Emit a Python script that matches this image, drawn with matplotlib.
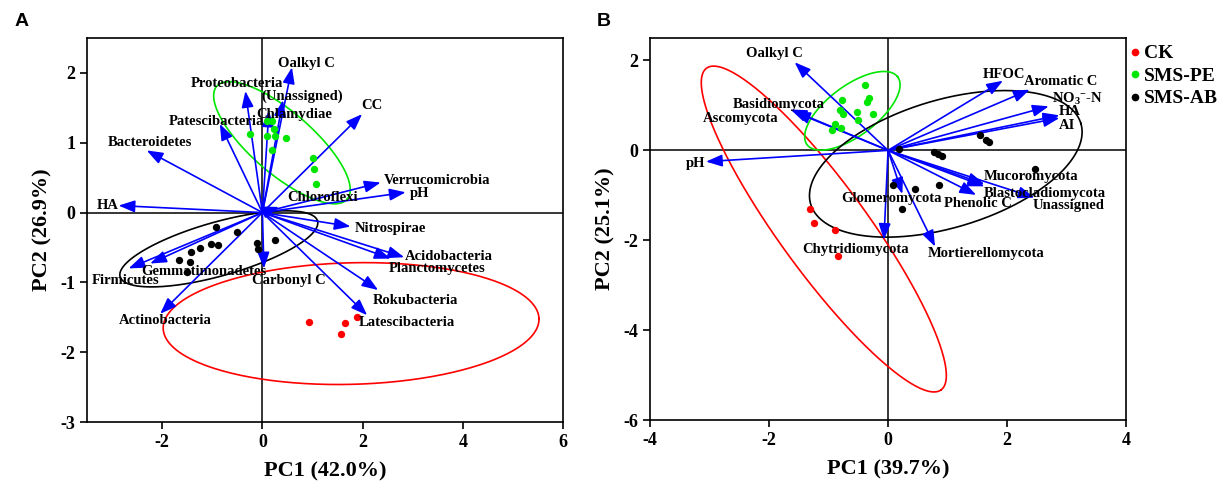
import numpy as np
import matplotlib
matplotlib.use("Agg")
import matplotlib.pyplot as plt
from matplotlib.lines import Line2D

plt.rcParams['font.family'] = ['Liberation Serif', 'DejaVu Serif']
plt.rcParams['font.weight'] = 'bold'
plt.rcParams['axes.unicode_minus'] = False
plt.rcParams['mathtext.fontset'] = 'custom'
plt.rcParams['mathtext.rm'] = 'Liberation Serif:bold'
plt.rcParams['mathtext.it'] = 'Liberation Serif:bold'
plt.rcParams['mathtext.bf'] = 'Liberation Serif:bold'

# ---------------- Panel A data (bacteria) ----------------
a_ck_x = [0.93, 1.64, 1.88, 1.57]
a_ck_y = [-1.57, -1.58, -1.50, -1.74]
a_pe_x = [-0.25, 0.09, 0.19, 0.23, 0.09, 0.25, 0.48, 0.19, 1.01, 1.03, 1.07]
a_pe_y = [1.12, 1.31, 1.31, 1.20, 1.09, 1.09, 1.07, 0.89, 0.78, 0.63, 0.41]
a_ab_x = [-0.92, -0.51, -1.02, -0.89, -1.24, -1.43, -1.67, -1.45, -1.51, -0.11, -0.09, 0.26]
a_ab_y = [-0.20, -0.28, -0.45, -0.46, -0.51, -0.56, -0.68, -0.71, -0.85, -0.43, -0.52, -0.39]

a_vars = ['Oalkyl C', 'Proteobacteria', '(Unassigned)', 'Chlamydiae', 'Patescibacteria',
          'Bacteroidetes', 'HA', 'CC', 'Verrucomicrobia', 'pH', 'Chloroflexi', 'Nitrospirae',
          'Acidobacteria', 'Planctomycetes', 'Rokubacteria', 'Latescibacteria', 'Carbonyl C',
          'Gemmatimonadetes', 'Firmicutes', 'Actinobacteria']
a_load_x = [0.59, -0.34, 0.41, 0.13, -0.85, -2.31, -2.87, 1.99, 2.36, 2.86, 0.33, 1.76,
            2.83, 2.56, 2.31, 2.09, 0.03, -2.24, -2.67, -2.04]
a_load_y = [2.08, 1.74, 1.61, 1.46, 1.27, 0.89, 0.10, 1.41, 0.43, 0.29, 0.08, -0.20,
            -0.64, -0.66, -1.11, -1.47, -0.80, -0.73, -0.80, -1.45]
a_lab_x = [0.88, -0.51, 0.80, 0.63, -0.91, -2.24, -3.09, 2.19, 3.49, 3.14, 1.20, 2.55,
           3.73, 3.49, 3.06, 2.88, 0.53, -1.17, -2.74, -1.94]
a_lab_y = [2.14, 1.85, 1.66, 1.41, 1.30, 1.01, 0.10, 1.53, 0.46, 0.27, 0.22, -0.23,
           -0.63, -0.80, -1.26, -1.58, -0.98, -0.85, -0.97, -1.54]

# ellipses: center, half-axis vector 1, half-axis vector 2 (data units)
a_ell_ck = [(1.77, -1.59), (3.75, 0.07), (0.033, -0.87)]
a_ell_pe = [(0.39, 1.00), (1.30, -0.81), (0.41, 0.33)]
a_ell_ab = [(-0.87, -0.52), (1.97, 0.40), (0.15, -0.37)]

# ---------------- Panel B data (fungi) ----------------
b_ck_x = [-1.32, -1.25, -0.89, -0.84]
b_ck_y = [-1.31, -1.62, -1.77, -2.34]
b_pe_x = [-0.38, -0.32, -0.36, -0.78, -0.81, -0.76, -0.52, -0.25, -0.51, -0.89, -0.95, -0.79]
b_pe_y = [1.46, 1.16, 1.07, 1.11, 0.89, 0.81, 0.85, 0.80, 0.67, 0.59, 0.46, 0.49]
b_ab_x = [0.19, 1.55, 1.65, 1.70, 0.78, 0.84, 0.90, 2.47, 0.09, 0.46, 0.86, 0.23]
b_ab_y = [0.04, 0.34, 0.23, 0.19, -0.03, -0.09, -0.12, -0.42, -0.77, -0.87, -0.77, -1.31]

b_vars = ['Oalkyl C', 'Basidiomycota', 'Ascomycota', 'pH', 'HFOC', 'Aromatic C',
          r'NO$_3$$^{-}$-N', 'HA', 'AI', 'Mucoromycota', 'Blastocladiomycota', 'Unassigned',
          'Phenolic C', 'Glomeromycota', 'Chytridiomycota', 'Mortierellomycota']
b_load_x = [-1.57, -1.64, -1.58, -3.06, 1.93, 2.38, 2.70, 2.88, 2.88, 1.62, 1.62, 2.46,
            1.48, 0.24, -0.07, 0.79]
b_load_y = [1.96, 0.91, 0.86, -0.25, 1.55, 1.35, 0.98, 0.78, 0.72, -0.75, -0.80, -1.05,
            -0.99, -0.97, -1.99, -2.14]
b_lab_x = [-1.91, -1.84, -2.48, -3.24, 1.95, 2.90, 3.19, 3.05, 3.00, 2.41, 2.63, 3.04,
           1.51, 0.05, -0.54, 1.64]
b_lab_y = [2.16, 1.02, 0.72, -0.30, 1.69, 1.53, 1.15, 0.87, 0.55, -0.58, -0.95, -1.22,
           -1.18, -1.08, -2.21, -2.30]

b_ell_ck = [(-1.08, -1.75), (1.97, -3.58), (0.60, 0.57)]
b_ell_pe = [(-0.60, 0.88), (0.76, 0.757), (0.255, -0.44)]
b_ell_ab = [(0.97, -0.30), (2.27, 0.90), (0.31, -1.36)]

groups = ['CK', 'SMS-PE', 'SMS-AB']
colors = ['#ff0000', '#00e600', '#000000']

fig = plt.figure(figsize=(12.24, 4.91), dpi=100)
axA = fig.add_axes([0.0711, 0.1405, 0.3889, 0.7821])
axB = fig.add_axes([0.5311, 0.1445, 0.3889, 0.7781])


def draw_ellipse(ax, ell, color):
    (cx, cy), (ux, uy), (vx, vy) = ell
    t = np.linspace(0, 2 * np.pi, 300)
    ax.plot(cx + ux * np.cos(t) + vx * np.sin(t), cy + uy * np.cos(t) + vy * np.sin(t),
            color=color, lw=1.2, zorder=2)


def panel(ax, pts, ells, lx, ly, labx, laby, names, xlim, ylim, xticks, yticks, xlabel, ylabel):
    ax.set_xlim(*xlim)
    ax.set_ylim(*ylim)
    ax.axhline(0, color='black', lw=1.1, zorder=1)
    ax.axvline(0, color='black', lw=1.1, zorder=1)
    for (px, py), e, c in zip(pts, ells, colors):
        draw_ellipse(ax, e, c)
        ax.scatter(px, py, s=28, color=c, zorder=4, linewidths=0)
    for x, y in zip(lx, ly):
        ax.annotate('', xy=(x, y), xytext=(0, 0),
                    arrowprops=dict(arrowstyle='-|>,head_length=0.7,head_width=0.26',
                                    mutation_scale=14, color='#0000ff', lw=1.2,
                                    shrinkA=0, shrinkB=0), zorder=3)
    for x, y, n in zip(labx, laby, names):
        ax.text(x, y, n, ha='center', va='center', fontsize=10.5, fontweight='bold', zorder=5)
    ax.set_xticks(xticks)
    ax.set_yticks(yticks)
    ax.tick_params(direction='out', length=5, width=1.2, labelsize=13)
    for lab in ax.get_xticklabels() + ax.get_yticklabels():
        lab.set_fontweight('bold')
    for s in ax.spines.values():
        s.set_linewidth(1.2)
    ax.set_xlabel(xlabel, fontsize=16, fontweight='bold', labelpad=8)
    ax.set_ylabel(ylabel, fontsize=16, fontweight='bold', labelpad=6)


panel(axA, [(a_ck_x, a_ck_y), (a_pe_x, a_pe_y), (a_ab_x, a_ab_y)],
      [a_ell_ck, a_ell_pe, a_ell_ab], a_load_x, a_load_y, a_lab_x, a_lab_y, a_vars,
      (-3.5, 6), (-3, 2.5), [-2, 0, 2, 4, 6], [-3, -2, -1, 0, 1, 2],
      'PC1 (42.0%)', 'PC2 (26.9%)')
panel(axB, [(b_ck_x, b_ck_y), (b_pe_x, b_pe_y), (b_ab_x, b_ab_y)],
      [b_ell_ck, b_ell_pe, b_ell_ab], b_load_x, b_load_y, b_lab_x, b_lab_y, b_vars,
      (-4, 4), (-6, 2.5), [-4, -2, 0, 2, 4], [-6, -4, -2, 0, 2],
      'PC1 (39.7%)', 'PC2 (25.1%)')

fig.text(15 / 1224, 1 - 22 / 491, 'A', fontsize=14, fontweight='bold',
         family='Liberation Sans', ha='left', va='center')
fig.text(597 / 1224, 1 - 22 / 491, 'B', fontsize=14, fontweight='bold',
         family='Liberation Sans', ha='left', va='center')

handles = [Line2D([], [], marker='o', ls='none', color=c, markersize=4.5) for c in colors]
leg = fig.legend(handles, groups, loc='upper left', bbox_to_anchor=(1117 / 1224, 1 - 37 / 491),
                 frameon=False, handletextpad=0.0, handlelength=1.0, borderaxespad=0,
                 labelspacing=0.25, prop={'family': 'Liberation Serif', 'weight': 'bold', 'size': 14})

fig.savefig('out.png', dpi=100)
